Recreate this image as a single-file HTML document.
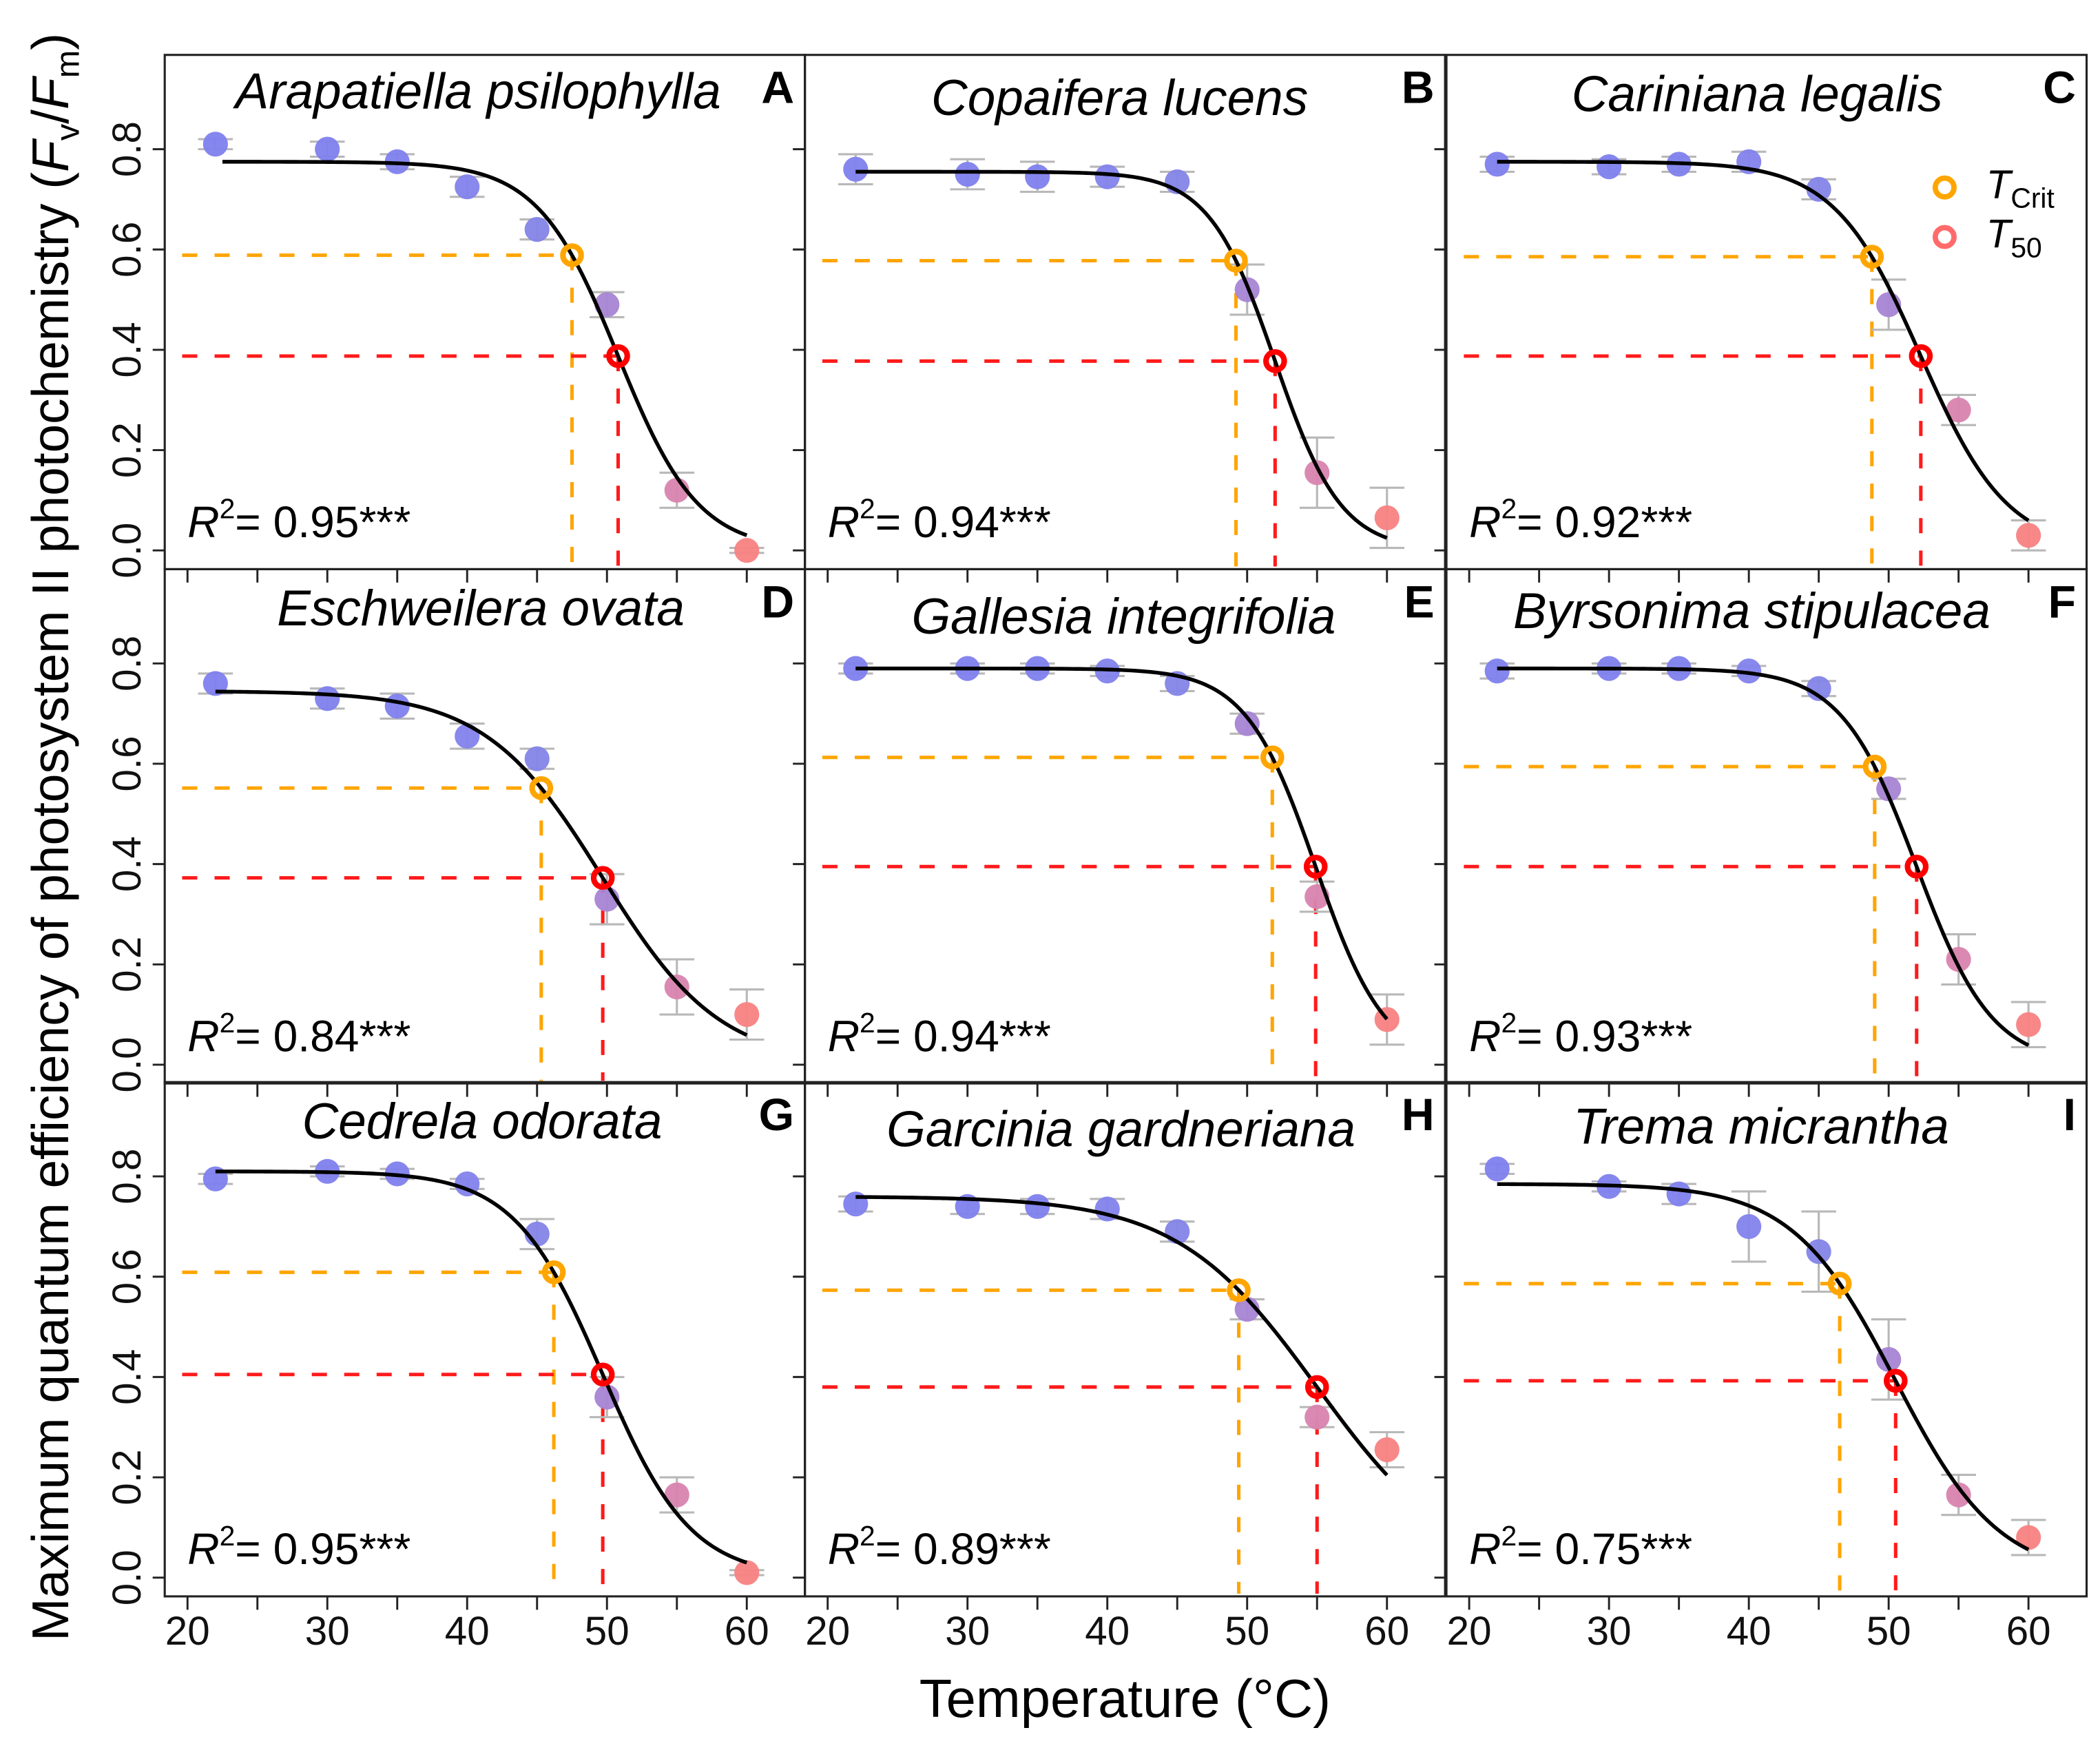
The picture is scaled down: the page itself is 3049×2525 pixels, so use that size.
<!DOCTYPE html>
<html><head><meta charset="utf-8"><style>
html,body{margin:0;padding:0;background:#fff;}
svg{display:block;font-family:"Liberation Sans",Arial,sans-serif;}
</style></head><body>
<svg id="chart" xmlns="http://www.w3.org/2000/svg" width="3049" height="2525" viewBox="0 0 1568 1298.5" preserveAspectRatio="none">
<rect x="0" y="0" width="1568" height="1298.5" fill="#fff"/>
<g id="panels"></g>
<text transform="translate(51,625) rotate(-90)" text-anchor="middle" font-size="38.5">Maximum quantum efficiency of photosystem II photochemistry (<tspan font-style="italic">F</tspan><tspan font-size="25" dy="8">v</tspan><tspan dy="-8">/</tspan><tspan font-style="italic">F</tspan><tspan font-size="25" dy="8">m</tspan><tspan dy="-8">)</tspan></text>
<text x="840" y="1282" text-anchor="middle" font-size="40">Temperature (°C)</text>
</svg>
<script>
const species = ["Arapatiella psilophylla","Copaifera lucens","Cariniana legalis","Eschweilera ovata","Gallesia integrifolia","Byrsonima stipulacea","Cedrela odorata","Garcinia gardneriana","Trema micrantha"];
const letters = ["A","B","C","D","E","F","G","H","I"];
const r2Labels = ["0.95","0.94","0.92","0.84","0.94","0.93","0.95","0.89","0.75"];
const temps = [22,30,35,40,45,50,55,60];
const meanA = [0.81,0.80,0.775,0.725,0.64,0.49,0.12,0.0];
const meanB = [0.76,0.75,0.745,0.745,0.735,0.52,0.155,0.065];
const meanC = [0.77,0.765,0.77,0.775,0.72,0.49,0.28,0.03];
const meanD = [0.76,0.73,0.715,0.655,0.61,0.33,0.155,0.10];
const meanE = [0.79,0.79,0.79,0.785,0.76,0.68,0.335,0.09];
const meanF = [0.785,0.79,0.79,0.785,0.75,0.55,0.21,0.08];
const meanG = [0.795,0.81,0.805,0.785,0.685,0.36,0.165,0.01];
const meanH = [0.745,0.74,0.74,0.735,0.69,0.535,0.32,0.255];
const meanI = [0.815,0.78,0.765,0.70,0.65,0.435,0.165,0.08];
const errA = [0.01,0.015,0.015,0.02,0.02,0.025,0.035,0.005];
const errB = [0.03,0.03,0.03,0.02,0.02,0.05,0.07,0.06];
const errC = [0.015,0.015,0.015,0.02,0.02,0.05,0.03,0.03];
const errD = [0.02,0.02,0.025,0.025,0.02,0.05,0.055,0.05];
const errE = [0.01,0.01,0.01,0.01,0.015,0.02,0.03,0.05];
const errF = [0.015,0.01,0.01,0.01,0.015,0.02,0.05,0.045];
const errG = [0.01,0.01,0.01,0.01,0.03,0.04,0.035,0.005];
const errH = [0.015,0.015,0.015,0.02,0.02,0.02,0.02,0.035];
const errI = [0.01,0.01,0.02,0.07,0.08,0.08,0.04,0.035];
// logistic fit parameters: plateau, T50, scale, curve start
const fitTop = [0.775,0.755,0.775,0.745,0.79,0.79,0.81,0.76,0.785];
const fitT50 = [50.8,52.0,52.3,49.7,54.9,52.0,49.7,55.0,50.5];
const fitScale = [2.87,2.37,3.1,4.2,2.5,2.7,3.16,5.0,3.7];
const fitStart = [22.5,22,22,22,22,22,22,22,22];
const tCrit = [47.5,49.2,48.8,45.3,51.8,49.0,46.2,49.4,46.5];
const yTicks = [0,0.2,0.4,0.6,0.8];
const yTickLabels = ["0.0","0.2","0.4","0.6","0.8"];
const xTicks = [20,25,30,35,40,45,50,55,60];
const xTickLabels = ["20","30","40","50","60"];
const xLabelVals = [20,30,40,50,60];

const means=[meanA,meanB,meanC,meanD,meanE,meanF,meanG,meanH,meanI];
const errs=[errA,errB,errC,errD,errE,errF,errG,errH,errI];
const NS="http://www.w3.org/2000/svg";
const root=document.getElementById('panels');
const colL=[123,601,1080], rowT=[41,425,808], PW=478, PH=384;
const titleX=[357,836,1312,359,839,1308,360,837,1315];
const titleDy=[40,45,42,42,48,44,42,48,46];
const ptColor=["#8080ee","#8080ee","#8080ee","#8282ec","#8484e8","#a684d4","#d884ae","#f88282"];
function mk(tag,attrs,parent){const e=document.createElementNS(NS,tag);for(const k in attrs)e.setAttribute(k,attrs[k]);(parent||root).appendChild(e);return e;}
for(let p=0;p<9;p++){
  const L=colL[p%3], T=rowT[Math.floor(p/3)];
  const xs=t=>L+17+(t-20)*10.44;
  const ys=v=>T+370-v*374.5;
  const fit=t=>fitTop[p]/(1+Math.exp((t-fitT50[p])/fitScale[p]));
  const g=mk('g',{});
  
  
  const fr=mk('rect',{x:L,y:T,width:PW,height:PH,fill:'none',stroke:'#222','stroke-width':1.6},g);
  
  
  yTicks.forEach((v,i)=>{
    const tk=mk('line',{x1:L-9,x2:L,y1:ys(v),y2:ys(v),stroke:'#222','stroke-width':1.5},g);
    
    
    if(p%3===0){
      const tl=mk('text',{transform:`translate(${L-18},${ys(v)}) rotate(-90)`,'text-anchor':'middle','font-size':30,fill:'#111'},g);
      tl.textContent=yTickLabels[i];
      
      
    }
  });
  xTicks.forEach(t=>{
    const tk=mk('line',{x1:xs(t),x2:xs(t),y1:T+PH,y2:T+PH+10,stroke:'#222','stroke-width':1.5},g);
    
    
  });
  if(p>=6){xLabelVals.forEach((t,i)=>{
    const tl=mk('text',{x:xs(t),y:1228,'text-anchor':'middle','font-size':30,fill:'#111'},g);
    tl.textContent=xTickLabels[i];
    
    
  });}
  const tc=tCrit[p], yc=fit(tc), t5=fitT50[p], y5=fit(t5);
  [[tc,yc,'#ffa500','tcrit'],[t5,y5,'#ff1a1a','t50']].forEach(([t,y,c,n])=>{
    const h=mk('line',{x1:L+13,x2:xs(t),y1:ys(y),y2:ys(y),stroke:c,'stroke-width':2.6,'stroke-dasharray':'11.3 12.9'},g);
    
    
    const v=mk('line',{x1:xs(t),x2:xs(t),y1:ys(y),y2:T+PH-2,stroke:c,'stroke-width':2.6,'stroke-dasharray':'11.3 12.9'},g);
    
    
  });
  temps.forEach((t,i)=>{
    const m=means[p][i], e=errs[p][i], x=xs(t);
    const eb=mk('path',{d:`M${x},${ys(m+e)}V${ys(m-e)}M${x-13},${ys(m+e)}H${x+13}M${x-13},${ys(m-e)}H${x+13}`,stroke:'#b8b8b8','stroke-width':1.6,fill:'none'},g);
    
    
    const c=mk('circle',{cx:x,cy:ys(m),r:9.3,fill:ptColor[i],'fill-opacity':0.95},g);
    
    
  });
  let d='';
  for(let t=fitStart[p];t<=60.001;t+=0.25){d+=(d?'L':'M')+xs(t).toFixed(2)+','+ys(fit(t)).toFixed(2);}
  const cv=mk('path',{d:d,fill:'none',stroke:'#000','stroke-width':2.8},g);
  
  
  const c1=mk('circle',{cx:xs(tc),cy:ys(yc),r:6.8,fill:'none',stroke:'#ffa500','stroke-width':4.2},g);
  
  
  const c2=mk('circle',{cx:xs(t5),cy:ys(y5),r:6.8,fill:'none',stroke:'#ff0000','stroke-width':4.2},g);
  
  
  const tt=mk('text',{x:titleX[p],y:T+titleDy[p],'text-anchor':'middle','font-size':37.5,'font-style':'italic',fill:'#000'},g);
  tt.textContent=species[p];
  
  
  const lt=mk('text',{x:L+PW-8,y:T+36,'text-anchor':'end','font-size':34,'font-weight':'bold',fill:'#000'},g);
  lt.textContent=letters[p];
  
  
  const rt=mk('text',{x:L+17,y:T+360,'font-size':33,fill:'#000'},g);
  rt.innerHTML='<tspan font-style="italic">R</tspan><tspan font-size="21" dy="-14">2</tspan><tspan dy="14">= '+r2Labels[p]+'***</tspan>';
  
  
}
const lg=mk('g',{});


const l1=mk('circle',{cx:1452,cy:140,r:7,fill:'none',stroke:'#ffa500','stroke-width':4},lg);


const l2=mk('circle',{cx:1452,cy:177,r:7,fill:'none',stroke:'#ff6b6b','stroke-width':4},lg);


const lt1=mk('text',{x:1483,y:148,'font-size':30,fill:'#000'},lg);
lt1.innerHTML='<tspan font-style="italic">T</tspan><tspan font-size="21" dy="7">Crit</tspan>';


const lt2=mk('text',{x:1483,y:185,'font-size':30,fill:'#000'},lg);
lt2.innerHTML='<tspan font-style="italic">T</tspan><tspan font-size="21" dy="7">50</tspan>';


</script>
</body></html>
